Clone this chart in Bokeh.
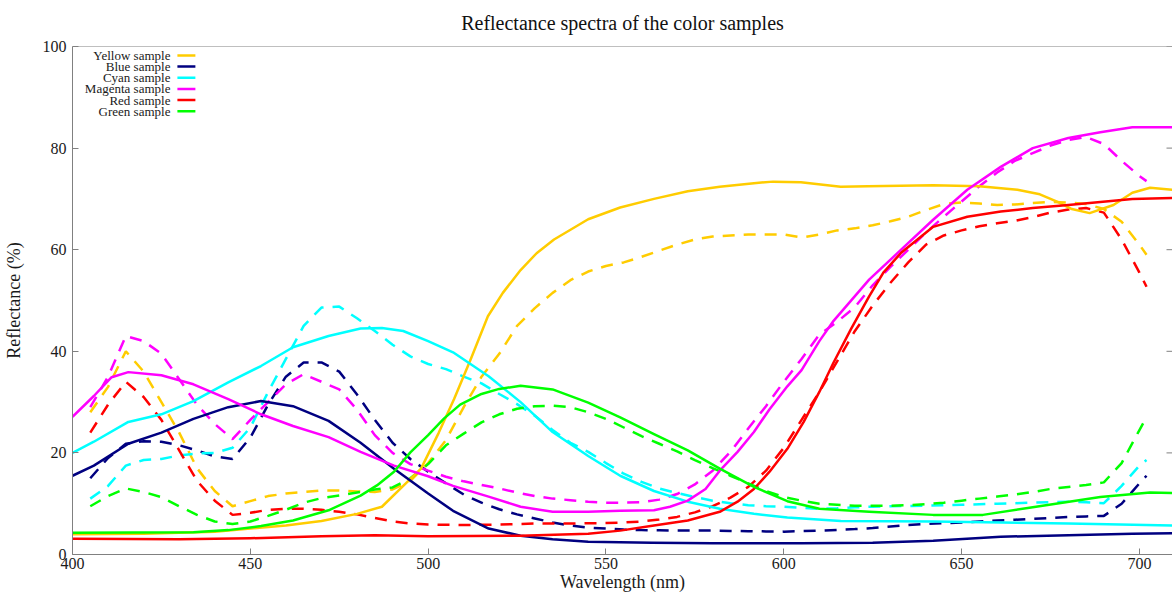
from bokeh.plotting import figure
from bokeh.models import FixedTicker, Span, Label, Range1d
from bokeh.embed import file_html
from bokeh.resources import INLINE

# ---------------- data ----------------
# solid curves: (wavelength, reflectance)
yellow_wl = [400, 420, 440, 460, 470, 480, 487, 493, 498, 503, 507.3, 512, 516.8, 521, 526, 530.5,
             535.4, 545, 554, 563.5, 573, 582, 591.6, 597, 604.8, 616, 623.6, 642, 655, 665.7,
             672, 677, 681, 686, 692.7, 698, 703, 709.3]
yellow_solid = [4.0, 4.1, 4.5, 5.7, 6.6, 8.0, 9.4, 13.5, 16.9, 24, 30.6, 38.5, 46.9, 51.5, 56, 59.3,
                62, 66, 68.3, 70, 71.5, 72.4, 73.1, 73.4, 73.3, 72.4, 72.5, 72.7, 72.5, 71.8,
                70.9, 69.4, 68, 67.2, 68.8, 71.2, 72.2, 71.8]
blue_wl = [400, 406, 415.7, 425, 434, 443.8, 453, 462, 472, 481, 490.4, 500, 507, 517, 526, 535,
           545, 563, 580, 605, 625, 642, 661, 680, 698, 709.3]
blue_solid = [15.5, 17.5, 21.8, 24, 26.7, 29, 30.2, 29.2, 26.3, 22, 16.9, 12, 8.6, 5.1, 3.7, 3.0,
              2.5, 2.3, 2.2, 2.2, 2.3, 2.7, 3.5, 3.8, 4.1, 4.2]
cyan_wl = [400, 406, 415.7, 425, 434, 443.8, 453, 462, 472, 481, 487, 493, 500, 507, 517, 526, 535,
           545, 554, 563.5, 573, 582, 591.6, 601, 616, 642, 680, 709.3]
cyan_solid = [20, 22.2, 26.1, 27.6, 30.2, 33.9, 37.1, 40.8, 43, 44.5, 44.6, 44, 42, 39.8, 35.1, 30,
              24.1, 19.4, 15.5, 12.5, 10.4, 9, 8, 7.3, 6.6, 6.5, 6.1, 5.7]
magenta_wl = [400, 406, 411, 415.7, 425, 434, 443.8, 453, 462, 472, 481, 490.4, 500, 507, 517, 526,
              535, 545, 554, 563.5, 568, 573, 578, 582, 587, 591.6, 596, 601, 605, 610, 614, 624,
              633, 642, 651.6, 661, 670, 680, 689, 698, 709.3]
magenta_solid = [27.1, 31.2, 34.9, 35.9, 35.3, 33.5, 30.6, 27.6, 25.3, 23.1, 20.2, 17.5, 15.4, 13.5,
                 11.4, 9.4, 8.4, 8.4, 8.6, 8.7, 9.4, 10.6, 12.9, 16.5, 20.2, 24.1, 28.6, 33.1, 36.3,
                 42, 46, 54.1, 60, 65.9, 71.8, 76.3, 80, 82, 83.1, 84.1, 84.1]
red_wl = [400, 430, 450, 470, 485, 500, 526, 545, 554, 563.5, 573, 582, 587, 591.6, 596, 601, 605.6,
          610, 614, 619, 624, 628, 633, 642, 651.6, 661, 670, 680, 689, 698, 709.3]
red_solid = [3.1, 3.0, 3.2, 3.6, 3.8, 3.6, 3.7, 4.1, 4.7, 5.7, 6.7, 8.4, 10.4, 12.9, 16.3, 20.8, 26.1,
             32, 37.8, 44.5, 50.8, 55.5, 59.4, 64.5, 66.5, 67.5, 68.2, 68.8, 69.4, 70, 70.2]
green_wl = [400, 434, 443.8, 453, 462, 472, 481, 485.6, 490.4, 495, 500, 504.5, 509, 515, 520, 526,
            535, 545, 554, 563.5, 573, 582, 591.6, 601, 610, 624, 642, 656, 670, 689, 703, 709.3]
green_solid = [4.3, 4.4, 4.8, 5.6, 6.7, 8.7, 11.6, 13.6, 16.3, 20.1, 23.5, 26.8, 29.5, 31.6, 32.6,
               33.2, 32.5, 29.9, 27, 23.7, 20.5, 16.9, 13.3, 10.5, 9, 8.4, 7.8, 7.8, 9.3, 11.3,
               12.2, 12.1]

# dashed curves (no legend entry), sampled every 5 nm
wl_dash = list(range(405, 701, 5)) + [702]
yellow_dash = [28, 33, 40, 36, 30, 24, 17, 12.5, 9.5, 10.5, 11.5, 12, 12.3, 12.6, 12.6, 12.4,
               12.3, 12.8, 14.5, 18, 22.5, 29, 35, 39.5, 45, 48.5, 51.5, 54, 55.7, 56.8, 57.5,
               58.6, 59.8, 61, 62, 62.6, 62.8, 63, 63, 63, 62.4, 63, 63.8, 64.2, 64.8, 65.6, 66.5,
               67.8, 69, 69.3, 69.1, 68.8, 68.9, 69.2, 69.4, 69.3, 69, 68, 65.5, 61, 59]
blue_dash = [15, 19, 21.8, 22.3, 22.2, 21.5, 20.5, 19.3, 18.8, 23, 29.5, 35, 37.8, 37.8, 36,
             31.5, 26.5, 22, 18.8, 16.3, 14, 11.8, 10.2, 8.9, 7.9, 7.1, 6.3, 5.7, 5.3, 5.1, 4.9,
             4.8, 4.75, 4.7, 4.7, 4.7, 4.65, 4.6, 4.55, 4.5, 4.6, 4.7, 4.85, 5.0, 5.2, 5.5, 5.8,
             6.0, 6.15, 6.3, 6.5, 6.7, 6.85, 7.0, 7.2, 7.4, 7.5, 7.6, 10, 14, 15.5]
cyan_dash = [11, 13.5, 17.5, 18.6, 18.8, 19.5, 19.9, 20, 21, 25, 32, 38.5, 45, 48.6, 48.8, 46.5,
             44, 41.3, 39, 37.5, 36.5, 35, 33.7, 31.6, 29.6, 27.3, 24.5, 22, 20.2, 18, 15.9, 14.3,
             13, 12.1, 11.3, 10.6, 10.1, 9.7, 9.5, 9.4, 9.2, 9.0, 9.1, 9.3, 9.4, 9.5, 9.55, 9.6,
             9.7, 9.8, 9.9, 10, 10.1, 10.2, 10.3, 10.4, 10.3, 10.1, 13.5, 17.5, 18.6]
magenta_dash = [29, 35, 43, 42, 39.5, 34.5, 29.5, 25.7, 22.7, 26.5, 30, 33.5, 35.5, 34, 32.5,
                28.5, 23.5, 20, 17.8, 16.5, 15.3, 14.4, 13.7, 13, 12.2, 11.5, 11, 10.7, 10.4,
                10.2, 10.2, 10.3, 10.8, 11.9, 13.8, 16.5, 20.2, 24.8, 29.2, 34, 38.5, 43.3, 45.8,
                48.7, 53, 56.6, 60, 63.4, 66.5, 69.5, 72.5, 75.2, 77.5, 79, 80.5, 81.6, 82.2,
                80.8, 77.5, 74.5, 73.5]
red_dash = [24, 29.5, 34, 31, 26.5, 20.5, 14.5, 10.6, 7.8, 8.2, 8.8, 9, 9, 8.8, 8.4, 7.9, 7.2,
            6.5, 6.1, 5.9, 5.85, 5.8, 5.85, 5.9, 6.0, 6.1, 6.1, 6.1, 6.15, 6.2, 6.3, 6.5, 6.9,
            7.4, 8.3, 9.5, 11.2, 13.3, 16.5, 21, 26.5, 32, 38, 44, 49, 53.5, 57.5, 61, 62.8,
            63.8, 64.6, 65.2, 65.7, 66.4, 67.3, 67.9, 68.2, 67.3, 62, 55.5, 52.7]
green_dash = [9.5, 11.5, 13, 12.3, 11.3, 9.5, 7.8, 6.5, 6.0, 6.5, 7.6, 8.8, 10.2, 11.1, 11.6,
              12.2, 12.8, 13.2, 15, 17.8, 21.5, 23.8, 26, 27.6, 28.7, 29.2, 29.3, 29, 28, 26.7,
              25, 23.3, 21.8, 20.3, 18.6, 17, 15.5, 14, 12.5, 11.3, 10.6, 10, 9.8, 9.6, 9.6, 9.6,
              9.7, 9.9, 10.2, 10.6, 11, 11.4, 11.8, 12.3, 12.9, 13.3, 13.7, 14.2, 18, 24.5, 27]

names = ["Yellow sample", "Blue sample", "Cyan sample", "Magenta sample", "Red sample", "Green sample"]
colors = ["#ffcc00", "#000080", "#00ffff", "#ff00ff", "#ff0000", "#00ff00"]
solid_wls = [yellow_wl, blue_wl, cyan_wl, magenta_wl, red_wl, green_wl]
solids = [yellow_solid, blue_solid, cyan_solid, magenta_solid, red_solid, green_solid]
dashes = [yellow_dash, blue_dash, cyan_dash, magenta_dash, red_dash, green_dash]

x_ticks = [400, 450, 500, 550, 600, 650, 700]
y_ticks = [0, 20, 40, 60, 80, 100]
title_text = "Reflectance spectra of the color samples"

# ---------------- figure ----------------
SERIF = "Liberation Serif"
W, H = 1172, 594
LEFT, TOP, BOTTOM = 71, 46, 38
X0, X1, Y0, Y1 = 400, 709.3, 0, 100

p = figure(width=W, height=H, x_range=Range1d(X0, X1), y_range=Range1d(Y0, Y1),
           output_backend="svg", toolbar_location=None,
           min_border_left=LEFT, min_border_right=0, min_border_top=TOP,
           min_border_bottom=BOTTOM)
p.background_fill_color = "white"
p.border_fill_color = "white"
p.outline_line_color = None
p.xgrid.visible = False
p.ygrid.visible = False

p.title.text = title_text
p.title.align = "center"
p.title.vertical_align = "top"
p.title.text_font = SERIF
p.title.text_font_size = "20px"
p.title.text_font_style = "normal"
p.title.text_color = "#111111"
p.title.standoff = 22

AX_COL = "#808080"
for ax in (p.xaxis[0], p.yaxis[0]):
    ax.axis_line_color = AX_COL
    ax.major_tick_line_color = AX_COL
    ax.major_tick_in = 6
    ax.major_tick_out = 0
    ax.minor_tick_line_color = None
    ax.major_label_text_font = SERIF
    ax.major_label_text_font_size = "16px"
    ax.major_label_text_color = "#1a1a1a"
    ax.axis_label_text_font = SERIF
    ax.axis_label_text_font_size = "18px"
    ax.axis_label_text_font_style = "normal"
    ax.axis_label_text_color = "#1a1a1a"

p.xaxis.ticker = FixedTicker(ticks=x_ticks)
p.yaxis.ticker = FixedTicker(ticks=y_ticks)
p.xaxis.axis_label = "Wavelength (nm)"
p.yaxis.axis_label = "Reflectance (%)"
p.xaxis.major_label_standoff = 3
p.xaxis.axis_label_standoff = 0
p.yaxis.major_label_standoff = 6
p.yaxis.axis_label_standoff = 16

# top border of the frame
p.add_layout(Span(location=Y1, dimension="width", line_color=AX_COL, line_width=1))

frame_w = W - LEFT
frame_h = H - TOP - BOTTOM
def px_to_x(px):
    return X0 + (px - LEFT) * (X1 - X0) / frame_w
def py_to_y(py):
    return Y1 - (py - TOP) * (Y1 - Y0) / frame_h

# mirrored y ticks at the right edge (pointing inward)
p.segment(x0=[px_to_x(W - 6)] * len(y_ticks), y0=y_ticks, x1=[X1] * len(y_ticks), y1=y_ticks,
          line_color=AX_COL, line_width=1)

# ---------------- curves ----------------
for c, d in zip(colors, dashes):
    p.line(wl_dash, d, line_color=c, line_width=2.5, line_dash="12 9")
for c, wl, s in zip(colors, solid_wls, solids):
    p.line(wl, s, line_color=c, line_width=2.5, line_join="round")

# ---------------- legend (gnuplot style: text, then sample line) ----------------
text_right_px = 169
line_x0_px, line_x1_px = 176, 194
row0_px, row_h = 55, 11.2
for i, (nm, c) in enumerate(zip(names, colors)):
    yy = py_to_y(row0_px + i * row_h)
    p.add_layout(Label(x=px_to_x(text_right_px), y=yy, text=nm, text_font=SERIF,
                       text_font_size="13px", text_align="right", text_baseline="middle",
                       text_color="#1a1a1a"))
    p.segment(x0=px_to_x(line_x0_px), y0=yy, x1=px_to_x(line_x1_px), y1=yy,
              line_color=c, line_width=2.5)

open("out.html", "w").write(file_html(p, INLINE))
